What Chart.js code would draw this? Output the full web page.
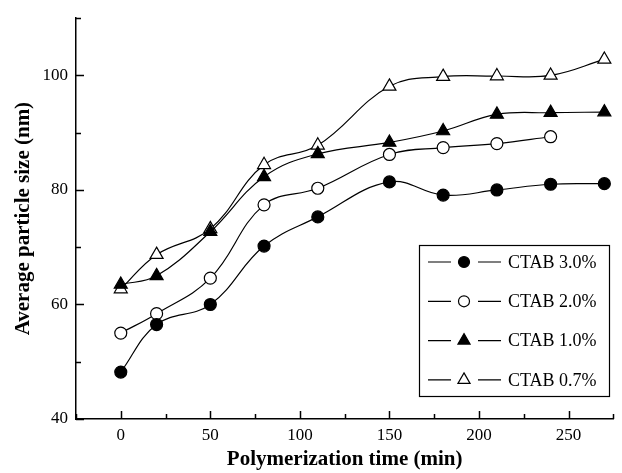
<!DOCTYPE html>
<html>
<head>
<meta charset="utf-8">
<script src="https://cdn.jsdelivr.net/npm/chart.js@4.4.0/dist/chart.umd.min.js"></script>
<style>
  html, body { margin: 0; padding: 0; background: #fff; }
  #wrap { width: 622px; height: 473px; position: relative; }
</style>
</head>
<body>
<div id="wrap"><canvas id="myChart"></canvas></div>
<script>
// data
const times = [0, 20, 50, 80, 110, 150, 180, 210, 240, 270];
const ctab30 = [48.2, 56.5, 60.0, 70.2, 75.3, 81.4, 79.1, 80.0, 81.0, 81.1];
const ctab20 = [55.0, 58.4, 64.6, 77.4, 80.3, 86.2, 87.4, 88.1, 89.3];
const ctab10 = [63.5, 65.0, 72.7, 82.3, 86.3, 88.3, 90.3, 93.2, 93.5, 93.6];
const ctab07 = [62.7, 68.7, 73.2, 84.4, 87.8, 98.1, 99.8, 99.9, 100.0, 102.8];
const seriesNames = ["CTAB 3.0%", "CTAB 2.0%", "CTAB 1.0%", "CTAB 0.7%"];

const xTicks = [0, 50, 100, 150, 200, 250];
const xMinor = [-25, 25, 75, 125, 175, 225, 275];
const yTicks = [40, 60, 80, 100];
const yMinor = [50, 70, 90, 110];

const serif = "'Liberation Serif', 'DejaVu Serif', serif";

function toPoints(vals) {
  return vals.map((v, i) => ({ x: times[i], y: v }));
}

const markers = [
  { style: "circle", fill: "#000", r: 6 },
  { style: "circle", fill: "#fff", r: 6 },
  { style: "triangle", fill: "#000", r: 7.5 },
  { style: "triangle", fill: "#fff", r: 7.5 },
];

const datasets = [ctab30, ctab20, ctab10, ctab07].map((vals, i) => ({
  label: seriesNames[i],
  data: toPoints(vals),
  borderColor: "#000",
  borderWidth: 1.2,
  tension: 0.4,
  pointStyle: markers[i].style,
  pointRadius: markers[i].r,
  pointBackgroundColor: markers[i].fill,
  pointBorderColor: "#000",
  pointBorderWidth: 1.2,
}));

// inward tick marks, both axes
const tickPlugin = {
  id: "inTicks",
  afterDraw(chart) {
    const ctx = chart.ctx;
    const xs = chart.scales.x, ys = chart.scales.y;
    const area = chart.chartArea;
    ctx.save();
    ctx.strokeStyle = "#000";
    ctx.lineWidth = 1.5;
    ctx.beginPath();
    xTicks.forEach(v => {
      const px = Math.round(xs.getPixelForValue(v)) + 0.5;
      ctx.moveTo(px, area.bottom); ctx.lineTo(px, area.bottom - 8);
    });
    xMinor.forEach(v => {
      const px = Math.round(xs.getPixelForValue(v)) + 0.5;
      ctx.moveTo(px, area.bottom); ctx.lineTo(px, area.bottom - 5);
    });
    yTicks.forEach(v => {
      const py = Math.round(ys.getPixelForValue(v)) + 0.5;
      ctx.moveTo(area.left, py); ctx.lineTo(area.left + 8, py);
    });
    yMinor.forEach(v => {
      const py = Math.round(ys.getPixelForValue(v)) + 0.5;
      ctx.moveTo(area.left, py); ctx.lineTo(area.left + 5, py);
    });
    ctx.stroke();
    ctx.restore();
  }
};

// boxed legend with line - marker - line
const legendPlugin = {
  id: "boxLegend",
  afterDraw(chart) {
    const ctx = chart.ctx;
    const left = 419, top = 245, right = 609, bottom = 396;
    ctx.save();
    ctx.fillStyle = "#fff";
    ctx.fillRect(left, top, right - left, bottom - top);
    ctx.strokeStyle = "#000";
    ctx.lineWidth = 1.2;
    ctx.strokeRect(left + 0.5, top + 0.5, right - left, bottom - top);
    ctx.font = "18px " + serif;
    ctx.textBaseline = "middle";
    ctx.fillStyle = "#000";
    chart.data.datasets.forEach((ds, i) => {
      const y = 262 + i * 39.3;
      ctx.beginPath();
      ctx.lineWidth = 1.2;
      ctx.moveTo(428, y); ctx.lineTo(451, y);
      ctx.moveTo(478, y); ctx.lineTo(501, y);
      ctx.stroke();
      ctx.fillStyle = markers[i].fill;
      ctx.beginPath();
      Chart.helpers.drawPoint(ctx, {
        pointStyle: markers[i].style,
        radius: markers[i].r - 0.5,
        borderWidth: 1.2,
      }, 464, y);
      ctx.fillStyle = "#000";
      ctx.fillText(ds.label, 508, y + 1);
    });
    ctx.restore();
  }
};

new Chart(document.getElementById("myChart"), {
  type: "line",
  data: { datasets: datasets },
  options: {
    responsive: true,
    maintainAspectRatio: false,
    animation: false,
    layout: { padding: { top: 13, right: 7, left: 11, bottom: 0 } },
    plugins: {
      legend: { display: false },
      tooltip: { enabled: false },
    },
    scales: {
      x: {
        type: "linear",
        min: -25,
        max: 275,
        afterBuildTicks(scale) { scale.ticks = xTicks.map(v => ({ value: v })); },
        afterFit(scale) { scale.height = 54; },
        grid: { display: false, drawTicks: false },
        border: { display: true, color: "#000", width: 1.5 },
        ticks: {
          color: "#000",
          font: { family: serif, size: 17 },
          padding: 6,
          maxRotation: 0,
        },
        title: {
          display: true,
          text: "Polymerization time (min)",
          color: "#000",
          font: { family: serif, size: 21, weight: "bold" },
          padding: { top: 0, bottom: 1 },
        },
      },
      y: {
        min: 40,
        max: 110,
        afterBuildTicks(scale) { scale.ticks = yTicks.map(v => ({ value: v })); },
        afterFit(scale) { scale.width = 65; },
        grid: { display: false, drawTicks: false },
        border: { display: true, color: "#000", width: 1.5 },
        ticks: {
          color: "#000",
          font: { family: serif, size: 17 },
          padding: 8,
        },
        title: {
          display: true,
          text: "Average particle size (nm)",
          color: "#000",
          font: { family: serif, size: 21, weight: "bold" },
          padding: { top: 0, bottom: 4 },
        },
      },
    },
  },
  plugins: [tickPlugin, legendPlugin],
});
</script>
</body>
</html>
